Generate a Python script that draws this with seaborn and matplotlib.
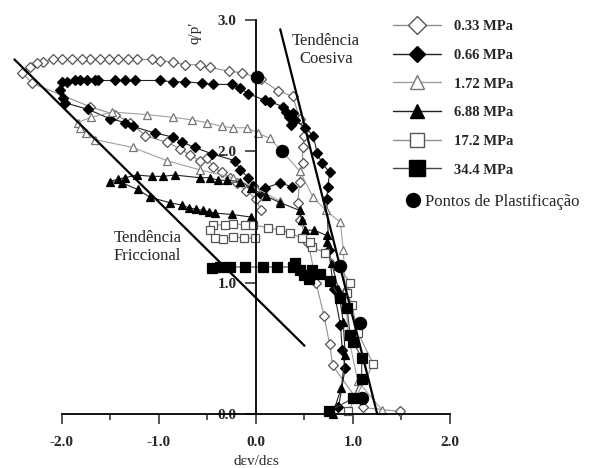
import numpy as np
import pandas as pd
import matplotlib
matplotlib.use("Agg")
import matplotlib.pyplot as plt
from matplotlib.lines import Line2D
import seaborn as sns

# stress-dilatancy paths (x = dEv/dEs, y = q/p')
s033_x = [1.48, 1.10, 0.79, 0.76, 0.70, 0.62, 0.54, 0.45, 0.43, 0.45, 0.48, 0.48, 0.50, 0.45, 0.38, 0.23,
          0.05, -0.14, -0.28, -0.47, -0.58, -0.73, -0.86, -0.99, -1.07, -1.23, -1.32, -1.42, -1.52, -1.61,
          -1.71, -1.79, -1.90, -2.00, -2.09, -2.20, -2.26, -2.33, -2.41, -2.31, -1.71, -1.45, -1.30, -1.14,
          -0.92, -0.78, -0.68, -0.58, -0.50, -0.44, -0.35, -0.27, -0.20, -0.10, 0.00, 0.05]
s033_y = [0.02, 0.05, 0.37, 0.53, 0.75, 1.00, 1.30, 1.48, 1.61, 1.77, 1.91, 2.03, 2.12, 2.25, 2.42, 2.46,
          2.55, 2.60, 2.61, 2.64, 2.66, 2.66, 2.68, 2.69, 2.70, 2.70, 2.70, 2.70, 2.70, 2.70,
          2.70, 2.70, 2.70, 2.70, 2.70, 2.68, 2.67, 2.64, 2.60, 2.52, 2.34, 2.28, 2.22, 2.12,
          2.07, 2.02, 1.97, 1.93, 1.95, 1.88, 1.84, 1.80, 1.76, 1.70, 1.64, 1.55]

s066_x = [0.85, 0.92, 0.89, 0.87, 0.80, 0.75, 0.73, 0.74, 0.76, 0.68, 0.63, 0.59, 0.51, 0.40, 0.36, 0.34,
          0.38, 0.31, 0.28, 0.14, 0.09, -0.08, -0.16, -0.25, -0.44, -0.56, -0.73, -0.86, -0.99, -1.25,
          -1.35, -1.45, -1.63, -1.66, -1.74, -1.81, -1.87, -1.95, -2.00, -2.02, -1.99, -1.97, -1.73, -1.51,
          -1.35, -1.27, -1.04, -0.86, -0.76, -0.63, -0.45, -0.22, -0.16, -0.08, -0.03, 0.04, 0.09, 0.25, 0.37]
s066_y = [0.05, 0.35, 0.49, 0.68, 0.95, 1.25, 1.64, 1.73, 1.84, 1.91, 1.99, 2.12, 2.18, 2.24, 2.20, 2.26,
          2.29, 2.30, 2.34, 2.38, 2.39, 2.44, 2.48, 2.51, 2.51, 2.52, 2.53, 2.53, 2.54, 2.54,
          2.54, 2.54, 2.54, 2.54, 2.54, 2.54, 2.54, 2.53, 2.53, 2.47, 2.41, 2.37, 2.32, 2.25,
          2.22, 2.19, 2.14, 2.11, 2.07, 2.03, 1.98, 1.93, 1.86, 1.80, 1.74, 1.68, 1.72, 1.76, 1.73]

s172_x = [1.30, 1.05, 0.95, 0.92, 0.90, 0.87, 0.72, 0.59, 0.45, 0.27, 0.14, 0.02, -0.09, -0.24, -0.35, -0.51,
          -0.66, -0.86, -1.12, -1.48, -1.70, -1.84, -1.81, -1.75, -1.66, -1.27, -0.92, -0.58, -0.24, 0.00, 0.25]
s172_y = [0.03, 0.25, 0.60, 0.95, 1.25, 1.46, 1.55, 1.65, 1.85, 2.00, 2.10, 2.14, 2.18, 2.18, 2.19, 2.22,
          2.24, 2.26, 2.28, 2.30, 2.26, 2.22, 2.18, 2.14, 2.09, 2.03, 1.93, 1.86, 1.80, 1.72, 1.62]

s688_x = [0.79, 0.88, 0.92, 0.90, 0.85, 0.78, 0.73, 0.73, 0.60, 0.51, 0.47, 0.45, 0.25, 0.10, -0.05, -0.16,
          -0.30, -0.39, -0.47, -0.58, -0.84, -0.96, -1.07, -1.23, -1.35, -1.42, -1.51, -1.38, -1.22, -1.09,
          -0.89, -0.76, -0.69, -0.62, -0.55, -0.48, -0.42, -0.25, -0.05]
s688_y = [0.00, 0.20, 0.45, 0.70, 0.95, 1.15, 1.31, 1.36, 1.40, 1.40, 1.48, 1.55, 1.61, 1.66, 1.72, 1.77,
          1.78, 1.78, 1.80, 1.80, 1.82, 1.81, 1.81, 1.82, 1.80, 1.79, 1.77, 1.76, 1.71, 1.65,
          1.61, 1.59, 1.57, 1.56, 1.55, 1.54, 1.53, 1.52, 1.50]

s17_x = [0.95, 1.21, 1.05, 0.99, 0.94, 0.97, 0.85, 0.71, 0.58, 0.56, 0.47, 0.35, 0.25, 0.12, -0.03, -0.11,
         -0.24, -0.32, -0.44, -0.47, -0.42, -0.34, -0.24, -0.12, -0.01]
s17_y = [0.02, 0.38, 0.62, 0.83, 0.92, 1.00, 1.13, 1.23, 1.27, 1.31, 1.34, 1.38, 1.40, 1.42, 1.44, 1.44,
         1.45, 1.44, 1.44, 1.40, 1.34, 1.33, 1.35, 1.34, 1.34]

s344_x = [0.75, 1.00, 1.09, 1.09, 1.00, 0.97, 0.94, 0.87, 0.76, 0.66, 0.58, 0.55, 0.50, 0.45, 0.40, 0.38,
          0.22, 0.07, -0.11, -0.27, -0.37, -0.45]
s344_y = [0.02, 0.12, 0.27, 0.43, 0.55, 0.60, 0.81, 0.88, 1.01, 1.07, 1.10, 1.03, 1.06, 1.10, 1.15, 1.12,
          1.12, 1.12, 1.12, 1.12, 1.12, 1.11]

yield_x = [0.01, 0.27, 0.87, 1.07, 1.09]
yield_y = [2.57, 2.00, 1.13, 0.69, 0.12]

fric_x = [-2.49, 0.50]
fric_y = [2.70, 0.52]
coes_x = [0.25, 1.25]
coes_y = [2.93, 0.00]

labels = ["0.33 MPa", "0.66 MPa", "1.72 MPa", "6.88 MPa", "17.2 MPa", "34.4 MPa"]

sns.set_style("white")
plt.rcParams['font.family'] = ['Liberation Serif', 'DejaVu Serif']

fig = plt.figure(figsize=(5.92, 4.68), dpi=100)
ax = fig.add_axes([0, 0, 1, 1])

styles = [
    dict(marker='D', ms=5.5, mfc='white', mec='#555555', color='#8f8f8f'),
    dict(marker='D', ms=5.0, mfc='black', mec='black', color='#222222'),
    dict(marker='^', ms=6.0, mfc='white', mec='#777777', color='#a0a0a0'),
    dict(marker='^', ms=6.0, mfc='black', mec='black', color='#222222'),
    dict(marker='s', ms=6.0, mfc='white', mec='#555555', color='#8f8f8f'),
    dict(marker='s', ms=6.5, mfc='black', mec='black', color='#444444'),
]
data = [(s033_x, s033_y), (s066_x, s066_y), (s172_x, s172_y),
        (s688_x, s688_y), (s17_x, s17_y), (s344_x, s344_y)]

for (xs, ys), st in zip(data, styles):
    df = pd.DataFrame({'x': xs, 'y': ys})
    sns.lineplot(data=df, x='x', y='y', sort=False, estimator=None, ax=ax,
                 lw=0.8, mew=0.9, legend=False, **st)

ax.plot(fric_x, fric_y, color='black', lw=1.6)
ax.plot(coes_x, coes_y, color='black', lw=1.6)
sns.scatterplot(x=yield_x, y=yield_y, ax=ax, color='black', s=80, edgecolor='black', zorder=5)

ax.set_xlim(-2.639, 3.464)
ax.set_ylim(-0.411, 3.153)

for side in ['top', 'right']:
    ax.spines[side].set_visible(False)
ax.spines['left'].set_position(('data', 0))
ax.spines['bottom'].set_position(('data', 0))
ax.spines['left'].set_bounds(0, 3)
ax.spines['bottom'].set_bounds(-2, 2)
for side in ['left', 'bottom']:
    ax.spines[side].set_linewidth(1.3)
    ax.spines[side].set_color('black')

ax.set_xticks([-2, -1, 0, 1, 2])
ax.set_xticklabels(['-2.0', '-1.0', '0.0', '1.0', '2.0'])
ax.set_xticks([-1.5, -0.5, 0.5, 1.5], minor=True)
ax.set_yticks([0, 1, 2, 3])
ax.set_yticklabels(['0.0', '1.0', '2.0', '3.0'])
ax.tick_params(axis='x', which='major', direction='out', length=7, width=1.1, pad=9,
               labelsize=11, bottom=True)
ax.tick_params(axis='x', which='minor', direction='out', length=4.5, width=1.1, bottom=True)
ax.tick_params(axis='y', which='major', direction='out', length=8, width=1.1, pad=6,
               labelsize=11, left=True)
for lab in ax.get_xticklabels() + ax.get_yticklabels():
    lab.set_fontweight('bold')
ax.set_xlabel('')
ax.set_ylabel('')

ax.text(0.0, -0.36, 'd\u03b5v/d\u03b5s', ha='center', va='center', fontsize=11)
ax.text(-0.63, 2.90, "q/p'", rotation=90, ha='center', va='center', fontsize=11)
ax.text(0.72, 2.77, 'Tend\u00eancia\nCoesiva', ha='center', va='center', fontsize=12,
        linespacing=1.15)
ax.text(-1.47, 1.27, 'Tend\u00eancia\nFriccional', ha='left', va='center', fontsize=12,
        linespacing=1.15, multialignment='left')

handles = []
for st in styles:
    handles.append(Line2D([], [], lw=1.0, color=st['color'], marker=st['marker'],
                          ms=st['ms'] * 1.7, mfc=st['mfc'], mec=st['mec'], mew=1.0))
leg1 = ax.legend(handles, labels, loc='upper left', bbox_to_anchor=(393 / 592, 1 - 20 / 468),
                 frameon=False, borderpad=0, borderaxespad=0, handlelength=3.3,
                 handletextpad=0.9, labelspacing=1.06,
                 prop=dict(family='Liberation Serif', weight='bold', size=10.5))
ax.add_artist(leg1)
dot = Line2D([], [], ls='none', marker='o', ms=10, color='black')
ax.legend([dot], ['Pontos de Plastifica\u00e7\u00e3o'], loc='upper left',
          bbox_to_anchor=(405 / 592, 1 - 194 / 468), frameon=False, borderpad=0,
          borderaxespad=0, handlelength=1.0, handletextpad=0.2,
          prop=dict(family='Liberation Serif', size=12))

fig.savefig('out.png', dpi=100)
